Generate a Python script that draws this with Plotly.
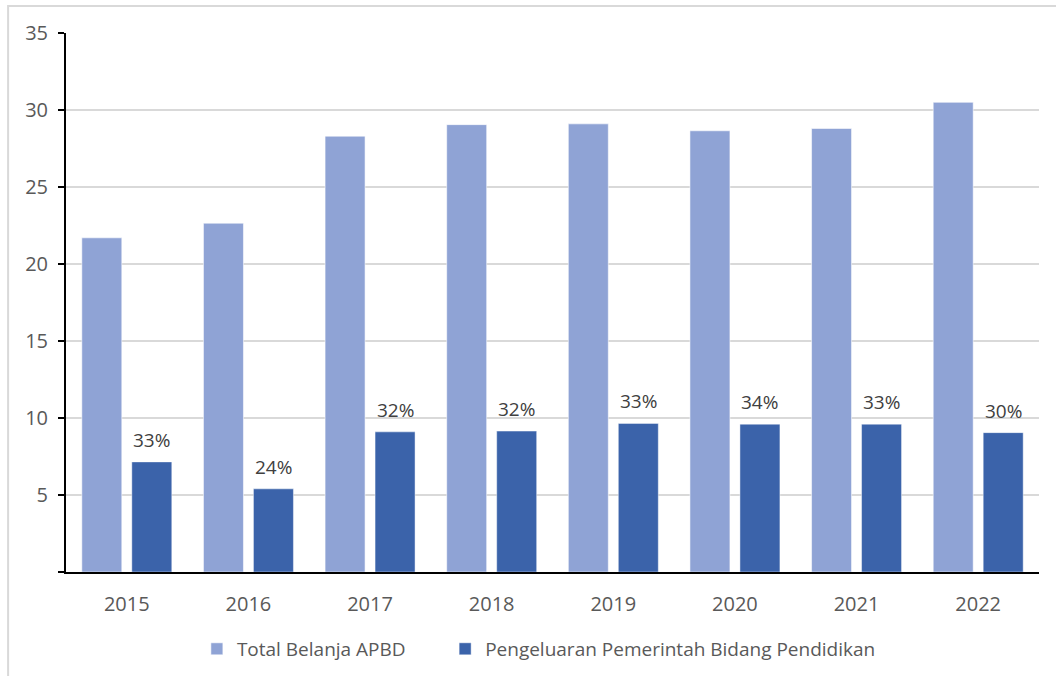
import plotly.graph_objects as go

# Budget data (values on the y axis)
years = ["2015", "2016", "2017", "2018", "2019", "2020", "2021", "2022"]
total_belanja = [21.7, 22.65, 28.3, 29.05, 29.1, 28.65, 28.8, 30.5]
belanja_pendidikan = [7.15, 5.4, 9.1, 9.15, 9.65, 9.6, 9.6, 9.05]
share_labels = ["33%", "24%", "32%", "32%", "33%", "34%", "33%", "30%"]
y_ticks = [0, 5, 10, 15, 20, 25, 30, 35]
y_tick_text = ["", "5", "10", "15", "20", "25", "30", "35"]
series_names = ["Total Belanja APBD", "Pengeluaran Pemerintah Bidang Pendidikan"]

light_blue = "#8FA3D5"
dark_blue = "#3B63AA"
text_grey = "#404040"
axis_grey = "#595959"
font_family = "Open Sans, Noto Sans, DejaVu Sans, sans-serif"
legend_pad = "\u00a0" * 7  # extra room between the two legend entries

fig = go.Figure()
fig.add_trace(go.Bar(
    x=years, y=total_belanja, name=series_names[0] + legend_pad,
    marker=dict(color=light_blue, line=dict(color="rgba(255,255,255,0.55)", width=1)),
))
fig.add_trace(go.Bar(
    x=years, y=belanja_pendidikan, name=series_names[1],
    marker=dict(color=dark_blue, line=dict(color="rgba(255,255,255,0.45)", width=1)),
))

# Share labels above the education-spending bars (category index on x)
for i, (val, lab) in enumerate(zip(belanja_pendidikan, share_labels)):
    fig.add_annotation(
        x=i, y=val, xref="x", yref="y", text=lab, showarrow=False,
        xanchor="center", yanchor="bottom", xshift=25, yshift=7,
        font=dict(size=19, color=text_grey, family=font_family),
    )

fig.update_layout(
    width=1056, height=676,
    margin=dict(l=66, r=17, t=33, b=104),
    paper_bgcolor="white", plot_bgcolor="white",
    barmode="group", bargap=0.178, bargroupgap=0.2,
    font=dict(family=font_family, size=18, color=axis_grey),
    showlegend=True,
    legend=dict(
        orientation="h", x=0.486, xanchor="center",
        yref="container", y=0.04, yanchor="middle",
        font=dict(size=19, color=axis_grey), itemwidth=30,
        traceorder="normal",
    ),
    xaxis=dict(
        type="category", range=[-0.5, len(years) - 0.5],
        showline=True, linecolor="black", linewidth=2,
        ticks="", tickfont=dict(size=20, color=axis_grey),
        showgrid=False, ticklabelstandoff=13,
    ),
    yaxis=dict(
        range=[0, 35], tickvals=y_ticks, ticktext=y_tick_text,
        showline=True, linecolor="black", linewidth=2,
        ticks="outside", ticklen=6, tickcolor="black", tickwidth=1.5,
        showgrid=True, gridcolor="#D9D9D9", gridwidth=2,
        zeroline=False,
        tickfont=dict(size=20, color=axis_grey),
        ticklabelstandoff=6,
    ),
    shapes=[
        dict(type="rect", xref="paper", yref="paper",
             x0=-0.0595, x1=1.05, y0=-0.3, y1=1.05,
             line=dict(color="#D9D9D9", width=2), layer="below"),
    ],
)

fig.write_html("out.html")
